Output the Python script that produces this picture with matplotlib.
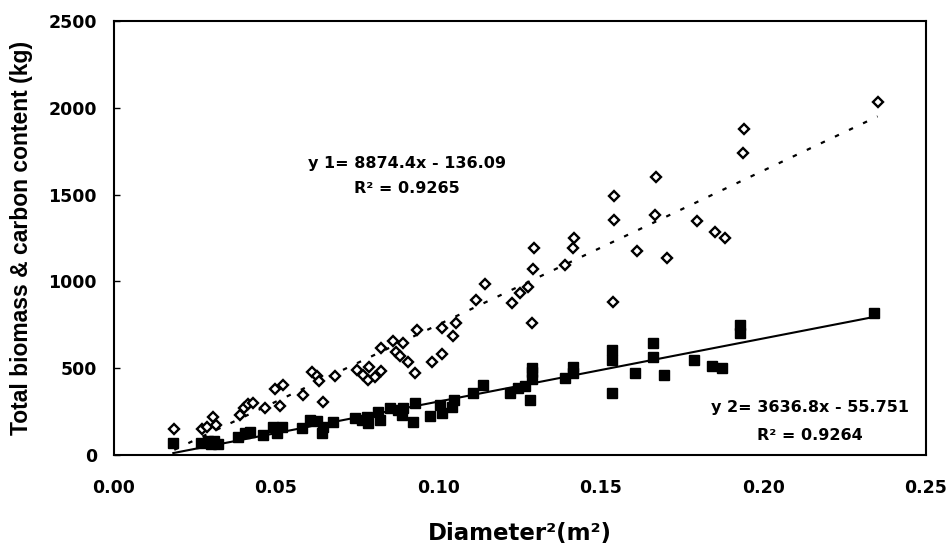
import matplotlib.pyplot as plt
import numpy as np

plt.rcParams['font.family'] = ['DejaVu Sans']
plt.rcParams['font.weight'] = 'bold'

# total biomass (open diamonds)
biomass_x = [0.0187, 0.0271, 0.0287, 0.0305, 0.0315, 0.0389, 0.0400, 0.0415, 0.0428, 0.0466,
             0.0497, 0.0512, 0.0523, 0.0582, 0.0612, 0.0625, 0.0633, 0.0646, 0.0682, 0.0748,
             0.0769, 0.0787, 0.0784, 0.0805, 0.0823, 0.0822, 0.0859, 0.0892, 0.0869, 0.0882,
             0.0907, 0.0928, 0.0933, 0.0979, 0.1010, 0.1012, 0.1044, 0.1055, 0.1115, 0.1143,
             0.1225, 0.1251, 0.1276, 0.1290, 0.1295, 0.1287, 0.1389, 0.1415, 0.1418, 0.1540,
             0.1540, 0.1538, 0.1612, 0.1669, 0.1666, 0.1702, 0.1794, 0.1851, 0.1882, 0.1940,
             0.1938, 0.2351]
biomass_y = [150, 148, 160, 221, 172, 230, 270, 295, 300, 272,
             378, 282, 403, 346, 480, 455, 425, 307, 455, 490,
             461, 509, 432, 451, 485, 614, 658, 647, 595, 570,
             537, 472, 720, 537, 584, 730, 685, 760, 890, 985,
             877, 931, 970, 1070, 1190, 758, 1094, 1190, 1248, 1492,
             1354, 880, 1177, 1600, 1382, 1133, 1350, 1283, 1252, 1878,
             1738, 2035]

# carbon content (filled squares)
carbon_x = [0.0184, 0.0270, 0.0290, 0.0300, 0.0310, 0.0320, 0.0384, 0.0405, 0.0420, 0.0461,
            0.0492, 0.0502, 0.0518, 0.0579, 0.0605, 0.0627, 0.0640, 0.0646, 0.0676, 0.0743,
            0.0764, 0.0784, 0.0779, 0.0815, 0.0820, 0.0851, 0.0876, 0.0892, 0.0887, 0.0922,
            0.0928, 0.0974, 0.1005, 0.1010, 0.1041, 0.1048, 0.1107, 0.1138, 0.1220, 0.1246,
            0.1266, 0.1287, 0.1287, 0.1287, 0.1282, 0.1389, 0.1413, 0.1413, 0.1533, 0.1533,
            0.1533, 0.1605, 0.1661, 0.1661, 0.1695, 0.1786, 0.1841, 0.1871, 0.1928, 0.1928,
            0.2340]
carbon_y = [67, 72, 80, 62, 78, 62, 105, 125, 134, 115,
            163, 125, 160, 154, 202, 198, 125, 163, 192, 211,
            202, 182, 221, 249, 202, 269, 259, 269, 230, 192,
            298, 225, 288, 240, 278, 317, 359, 403, 355, 384,
            397, 480, 500, 436, 317, 442, 509, 470, 605, 547,
            355, 474, 647, 563, 461, 547, 514, 499, 749, 703,
            820]

# fitted lines
fit1 = (8874.4, -136.09)
fit2 = (3636.8, -55.751)

fig = plt.figure(figsize=(9.53, 5.44), dpi=100)
ax = fig.add_axes([0.1191, 0.1636, 0.8526, 0.7978])

ax.plot(biomass_x, biomass_y, 'D', ms=5.4, mfc='white', mec='black', mew=1.7, ls='none', zorder=3)
ax.plot(carbon_x, carbon_y, 's', ms=7.4, mfc='black', mec='black', ls='none', zorder=3)

xs = np.array([min(biomass_x), max(biomass_x)])
ax.plot(xs, fit1[0] * xs + fit1[1], color='black', lw=1.6, dashes=(2, 5), zorder=2)
xs = np.array([min(carbon_x), max(carbon_x)])
ax.plot(xs, fit2[0] * xs + fit2[1], color='black', lw=1.5, zorder=2)

ax.text(0.0903, 1682, 'y 1= 8874.4x - 136.09', ha='center', va='center', fontsize=11.5, fontweight='bold')
ax.text(0.0903, 1538, 'R² = 0.9265', ha='center', va='center', fontsize=11.5, fontweight='bold')
ax.text(0.2143, 271, 'y 2= 3636.8x - 55.751', ha='center', va='center', fontsize=11.5, fontweight='bold')
ax.text(0.2143, 115, 'R² = 0.9264', ha='center', va='center', fontsize=11.5, fontweight='bold')

ax.set_xlim(0, 0.25)
ax.set_ylim(0, 2500)
ax.set_xticks(np.arange(0, 0.2501, 0.05))
ax.set_xticklabels(['0.00', '0.05', '0.10', '0.15', '0.20', '0.25'])
ax.set_yticks(np.arange(0, 2501, 500))
ax.tick_params(axis='x', length=0, pad=17, labelsize=12.5)
ax.tick_params(axis='y', direction='in', length=4, width=1, pad=12, labelsize=12.5)
for lab in ax.get_xticklabels() + ax.get_yticklabels():
    lab.set_fontweight('bold')
for s in ax.spines.values():
    s.set_linewidth(1.5)

ax.set_xlabel('Diameter²(m²)', fontsize=16.5, fontweight='bold', labelpad=18)
ax.set_ylabel('Total biomass & carbon content (kg)', fontsize=16.5, fontweight='bold',
              labelpad=11, family='Liberation Sans')

fig.savefig('out.png', dpi=100)
